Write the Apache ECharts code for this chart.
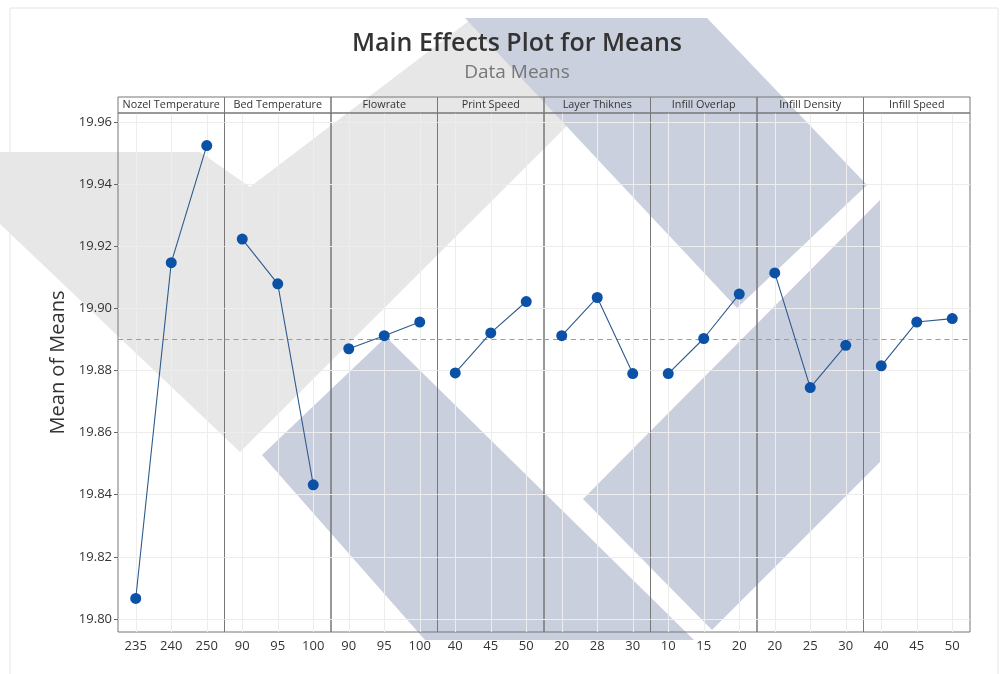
<!DOCTYPE html>
<html>
<head>
<meta charset="utf-8">
<script src="https://cdn.jsdelivr.net/npm/echarts@6/dist/echarts.min.js"></script>
<style>
  html, body { margin: 0; padding: 0; background: #fff; }
  #main { width: 1007px; height: 674px; }
</style>
</head>
<body>
<div id="main"></div>
<script>
// factor names (panel headers)
const factors = ["Nozel Temperature", "Bed Temperature", "Flowrate", "Print Speed",
  "Layer Thiknes", "Infill Overlap", "Infill Density", "Infill Speed"];
// levels of each factor (x categories)
const levels = [
  ["235", "240", "250"],
  ["90", "95", "100"],
  ["90", "95", "100"],
  ["40", "45", "50"],
  ["20", "28", "30"],
  ["10", "15", "20"],
  ["20", "25", "30"],
  ["40", "45", "50"]
];
// mean of means for each level
const means = [
  [19.8066, 19.9147, 19.9524],
  [19.9223, 19.9079, 19.8432],
  [19.8870, 19.8912, 19.8956],
  [19.8792, 19.8921, 19.9022],
  [19.8912, 19.9035, 19.8790],
  [19.8790, 19.8903, 19.9046],
  [19.9114, 19.8745, 19.8881],
  [19.8815, 19.8956, 19.8967]
];
const yTicks = [19.80, 19.82, 19.84, 19.86, 19.88, 19.90, 19.92, 19.94, 19.96];
const grandMean = 19.8913;

// layout
const plotLeft = 118, plotRight = 970, plotTop = 113, plotBottom = 632, stripTop = 97;
const panelW = (plotRight - plotLeft) / factors.length;
const yMin = 19.7958, yMax = 19.9629;
const font = "'Open Sans', 'Noto Sans', sans-serif";

const myChart = echarts.init(document.getElementById("main"));

const grids = [], xAxes = [], yAxes = [], series = [];
factors.forEach((f, i) => {
  grids.push({
    left: plotLeft + i * panelW,
    top: plotTop,
    width: panelW,
    height: plotBottom - plotTop,
    show: true,
    borderColor: "#777",
    borderWidth: 1,
    backgroundColor: "transparent"
  });
  xAxes.push({
    type: "category",
    gridIndex: i,
    data: levels[i],
    boundaryGap: true,
    axisLine: { show: false },
    axisTick: { alignWithLabel: true, length: 4, lineStyle: { color: "#666" } },
    axisLabel: { color: "#333", fontSize: 13, margin: 8, fontFamily: font },
    splitLine: { show: false }
  });
  yAxes.push({
    type: "value",
    gridIndex: i,
    min: yMin,
    max: yMax,
    axisLine: { show: false },
    splitLine: { show: false },
    axisTick: { show: i === 0, length: 4, customValues: yTicks, lineStyle: { color: "#666" } },
    axisLabel: {
      show: i === 0, customValues: yTicks, color: "#333", fontSize: 13, margin: 6,
      fontFamily: font, formatter: (v) => v.toFixed(2)
    },
    name: i === 0 ? "Mean of Means" : "",
    nameLocation: "middle",
    nameGap: 50,
    nameTextStyle: { color: "#333", fontSize: 20, fontFamily: font, padding: [0, 0, 0, 20] }
  });
  const grid = { color: "#ededed", width: 1, type: "solid" };
  series.push({
    type: "line",
    xAxisIndex: i,
    yAxisIndex: i,
    data: means[i],
    symbol: "circle",
    symbolSize: 11,
    itemStyle: { color: "#0b52a6" },
    lineStyle: { color: "#2d5a8c", width: 1.1 },
    z: 5,
    markLine: {
      silent: true,
      symbol: "none",
      label: { show: false },
      animation: false,
      data: [
        ...yTicks.map((v) => ({ yAxis: v, lineStyle: grid })),
        ...levels[i].map((l) => ({ xAxis: l, lineStyle: grid })),
        { yAxis: grandMean, lineStyle: { color: "#9c9c9c", width: 1, type: [5, 4] } }
      ]
    }
  });
});

// header strips + watermark drawn as graphics
const graphics = [
  { type: "rect", z: -30, shape: { x: 10, y: 8, width: 988, height: 700 },
    style: { fill: "none", stroke: "#e4e4e4", lineWidth: 1 } },
  { type: "polygon", z: -20,
    shape: { points: [[0, 152], [200, 152], [250, 187], [470, 20], [673, 20], [240, 452], [0, 224]] },
    style: { fill: "#e7e7e7" } },
  { type: "polygon", z: -19,
    shape: { points: [[465, 18], [707, 18], [867, 185], [737, 308]] },
    style: { fill: "#cad0de" } },
  { type: "polygon", z: -19,
    shape: { points: [[262, 455], [386, 337], [694, 640], [425, 640]] },
    style: { fill: "#c9cfdd" } },
  { type: "polygon", z: -19,
    shape: { points: [[583, 499], [880, 200], [880, 462], [712, 630]] },
    style: { fill: "#c9cfdd" } }
];
factors.forEach((f, i) => {
  const x0 = plotLeft + i * panelW;
  graphics.push({
    type: "rect", z: 10,
    shape: { x: x0, y: stripTop, width: panelW, height: plotTop - stripTop },
    style: { fill: "none", stroke: "#777", lineWidth: 1 }
  });
  graphics.push({
    type: "text", z: 11,
    x: x0 + panelW / 2, y: stripTop + (plotTop - stripTop) / 2,
    style: { text: f, fill: "#333", font: "10.8px " + font, textAlign: "center", textVerticalAlign: "middle" }
  });
});

const option = {
  backgroundColor: "#fff",
  animation: false,
  title: [
    {
      text: "Main Effects Plot for Means",
      left: 512, top: 26, textAlign: "center",
      textStyle: { color: "#333", fontSize: 25, fontWeight: 600, fontFamily: font }
    },
    {
      text: "Data Means",
      left: 512, top: 58, textAlign: "center",
      textStyle: { color: "#777", fontSize: 19, fontWeight: "normal", fontFamily: font }
    }
  ],
  grid: grids,
  xAxis: xAxes,
  yAxis: yAxes,
  series: series,
  graphic: graphics
};

option && myChart.setOption(option);
</script>
</body>
</html>
